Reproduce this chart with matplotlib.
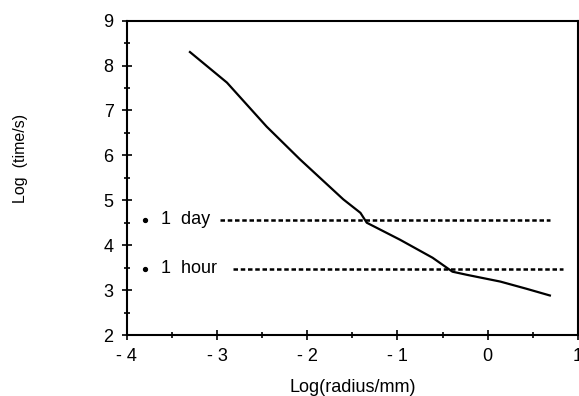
import numpy as np
import matplotlib.pyplot as plt

# courbe
radius_log = [-3.30, -2.89, -2.45, -2.08, -1.60, -1.41, -1.34, -0.97, -0.61, -0.39, -0.23, 0.14, 0.43, 0.69]
time_log = [8.30, 7.62, 6.64, 5.91, 5.02, 4.72, 4.50, 4.12, 3.72, 3.41, 3.34, 3.19, 3.03, 2.88]

# lignes de référence
ref_labels = ['1  day', '1  hour']
ref_levels = [4.57, 3.47]
ref_start = [-2.97, -2.82]
ref_end = [0.69, 0.83]

x_ticks = [-4, -3, -2, -1, 0, 1]
x_ticklabels = ['- 4', '- 3', '- 2', '- 1', '0', '1']
y_ticks = [2, 3, 4, 5, 6, 7, 8, 9]

plt.rcParams['font.family'] = ['Liberation Sans', 'DejaVu Sans']

fig = plt.figure(figsize=(5.79, 3.96), dpi=100)
ax = fig.add_axes([0.219, 0.154, 0.779, 0.794])

ax.plot(radius_log, time_log, color='black', lw=1.6)

for lab, lvl, x0, x1 in zip(ref_labels, ref_levels, ref_start, ref_end):
    ax.plot([x0, x1], [lvl, lvl], color='black', lw=1.8, linestyle=(0, (1.8, 1.1)))
    ax.plot(-3.8, lvl, 'o', color='black', ms=2.8)
    ax.text(-3.62, lvl, lab, fontsize=13, va='center', ha='left')

ax.set_xlim(-4, 1)
ax.set_ylim(2, 9)
ax.set_xticks(x_ticks)
ax.set_xticklabels(x_ticklabels)
ax.set_yticks(y_ticks)
ax.set_xticks(np.arange(-3.5, 1, 1), minor=True)
ax.set_yticks(np.arange(2.5, 9, 1), minor=True)
ax.tick_params(which='both', direction='inout', labelsize=13, top=False, right=False, width=1.2)
ax.tick_params(which='major', length=7, pad=6)
ax.tick_params(which='minor', length=4)
for s in ax.spines.values():
    s.set_linewidth(1.5)

ax.set_xlabel('Log(radius/mm)', fontsize=13, labelpad=10)
fig.text(0.035, 0.6, 'Log  (time/s)', rotation=90, fontsize=11.5, ha='center', va='center')

fig.savefig('out.png', dpi=100)
